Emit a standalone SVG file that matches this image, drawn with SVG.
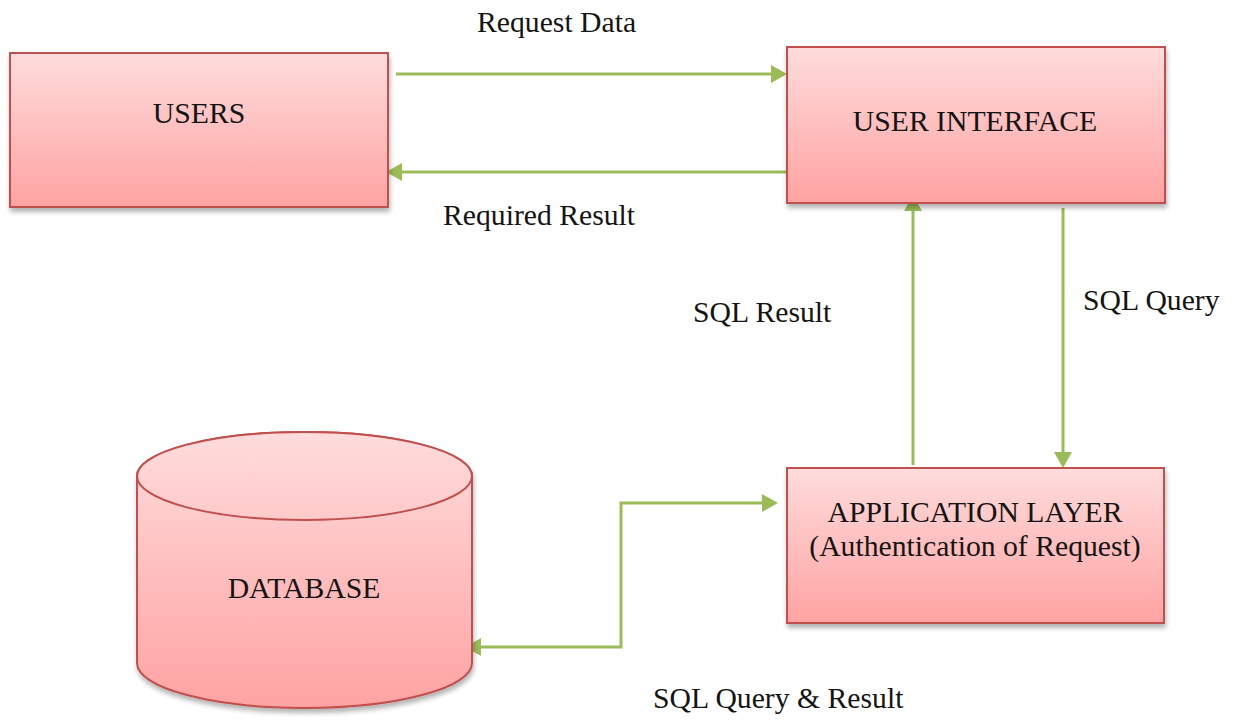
<svg xmlns="http://www.w3.org/2000/svg" width="1237" height="724" viewBox="0 0 1237 724">
  <style>
    .node { stroke: #c0504d; stroke-width: 2; filter: url(#shadow); }
    .label { font-family: "Liberation Serif", "Times New Roman", serif; font-size: 29.7px; fill: #141414; }
    .mid { text-anchor: middle; }
    .link { fill: none; stroke: #9bbb59; stroke-width: 3; }
  </style>
  <defs>
    <linearGradient id="pinkFill" x1="0" y1="0" x2="0" y2="1">
      <stop offset="0" stop-color="#ffdcdc"/>
      <stop offset="0.55" stop-color="#ffbcbc"/>
      <stop offset="1" stop-color="#ffa3a3"/>
    </linearGradient>
    <linearGradient id="cylFill" gradientUnits="userSpaceOnUse" x1="0" y1="432" x2="0" y2="708">
      <stop offset="0" stop-color="#ffdcdc"/>
      <stop offset="0.55" stop-color="#ffbcbc"/>
      <stop offset="1" stop-color="#ffa3a3"/>
    </linearGradient>
    <filter id="shadow" x="-10%" y="-10%" width="120%" height="130%">
      <feGaussianBlur in="SourceAlpha" stdDeviation="2.5"/>
      <feOffset dx="1" dy="4" result="blur"/>
      <feComponentTransfer><feFuncA type="linear" slope="0.3"/></feComponentTransfer>
      <feMerge><feMergeNode/><feMergeNode in="SourceGraphic"/></feMerge>
    </filter>
    <marker id="head" markerUnits="userSpaceOnUse" markerWidth="17" markerHeight="19" refX="1" refY="9" orient="auto-start-reverse">
      <path d="M0,0 L16,9 L0,18 z" fill="#9bbb59"/>
    </marker>
  </defs>

  <!-- connectors -->
  <g id="connectors">
    <line class="link" x1="396" y1="74" x2="772" y2="74" marker-end="url(#head)"/>
    <line class="link" x1="787" y1="172" x2="401" y2="172" marker-end="url(#head)"/>
    <line class="link" x1="913" y1="465" x2="913" y2="210" marker-end="url(#head)"/>
    <line class="link" x1="1063" y1="208" x2="1063" y2="453" marker-end="url(#head)"/>
    <path class="link" d="M480,647 L621,647 L621,503 L763,503" marker-start="url(#head)" marker-end="url(#head)"/>
  </g>

  <!-- nodes -->
  <g id="users">
    <rect class="node" x="10" y="53" width="378" height="154" fill="url(#pinkFill)"/>
    <text class="label mid" x="199" y="123">USERS</text>
  </g>

  <g id="user-interface">
    <rect class="node" x="787" y="47" width="378" height="156" fill="url(#pinkFill)"/>
    <text class="label mid" x="975" y="131">USER INTERFACE</text>
  </g>

  <g id="application-layer">
    <rect class="node" x="787" y="468" width="377" height="155" fill="url(#pinkFill)"/>
    <text class="label mid" x="975" y="522">APPLICATION LAYER</text>
    <text class="label mid" x="975" y="556">(Authentication of Request)</text>
  </g>

  <g id="database">
    <path class="node" d="M137,476 L137,663 A167.5,45 0 0 0 472,663 L472,476 A167.5,44 0 0 0 137,476 z" fill="url(#cylFill)"/>
    <ellipse cx="304.5" cy="476" rx="167.5" ry="44" fill="url(#cylFill)" stroke="#c0504d" stroke-width="2"/>
    <text class="label mid" x="304" y="598">DATABASE</text>
  </g>

  <!-- connector labels -->
  <g id="labels">
    <text class="label" x="477" y="32">Request Data</text>
    <text class="label" x="443" y="225">Required Result</text>
    <text class="label" x="693" y="322">SQL Result</text>
    <text class="label" x="1083" y="310">SQL Query</text>
    <text class="label" x="653" y="708">SQL Query &amp; Result</text>
  </g>
</svg>
